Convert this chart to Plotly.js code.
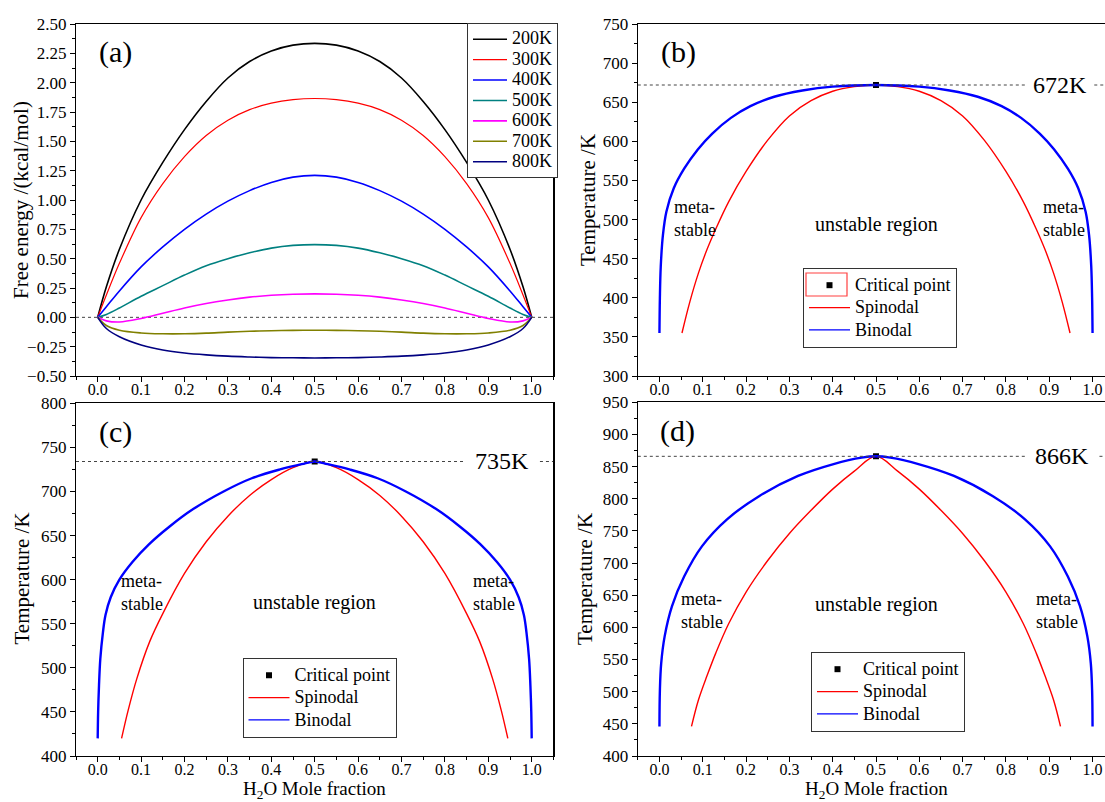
<!DOCTYPE html>
<html>
<head>
<meta charset="utf-8">
<script src="https://cdn.plot.ly/plotly-3.0.1.min.js"></script>
<style>
html,body{margin:0;padding:0;overflow:hidden;background:#fff;}
#chart{width:1130px;height:802px;}
</style>
</head>
<body>
<div id="chart"></div>
<script>
// ---------- Panel (a): free energy of mixing ----------
const xFrac = [0, 0.02, 0.05, 0.1, 0.15, 0.2, 0.25, 0.3, 0.35, 0.4, 0.45, 0.5, 0.55, 0.6, 0.65, 0.7, 0.75, 0.8, 0.85, 0.9, 0.95, 0.98, 1.0];
const tempLabels = ['200K', '300K', '400K', '500K', '600K', '700K', '800K'];
const g200 = [0, 0.26, 0.58, 1.00, 1.32, 1.60, 1.84, 2.04, 2.18, 2.27, 2.32, 2.335, 2.32, 2.27, 2.18, 2.04, 1.84, 1.60, 1.32, 1.00, 0.58, 0.26, 0];
const g300 = [0, 0.19, 0.46, 0.85, 1.14, 1.37, 1.55, 1.68, 1.77, 1.825, 1.855, 1.865, 1.855, 1.825, 1.77, 1.68, 1.55, 1.37, 1.14, 0.85, 0.46, 0.19, 0];
const g400 = [0, 0.09, 0.225, 0.43, 0.60, 0.75, 0.88, 0.99, 1.08, 1.15, 1.195, 1.21, 1.195, 1.15, 1.08, 0.99, 0.88, 0.75, 0.60, 0.43, 0.225, 0.09, 0];
const g500 = [0, 0.025, 0.08, 0.18, 0.27, 0.36, 0.44, 0.50, 0.55, 0.59, 0.613, 0.62, 0.613, 0.59, 0.55, 0.50, 0.44, 0.36, 0.27, 0.18, 0.08, 0.025, 0];
const g600 = [0, -0.03, -0.04, -0.01, 0.035, 0.08, 0.118, 0.148, 0.172, 0.188, 0.197, 0.20, 0.197, 0.188, 0.172, 0.148, 0.118, 0.08, 0.035, -0.01, -0.04, -0.03, 0];
const g700 = [0, -0.07, -0.11, -0.133, -0.14, -0.14, -0.135, -0.126, -0.119, -0.114, -0.111, -0.11, -0.111, -0.114, -0.119, -0.126, -0.135, -0.14, -0.14, -0.133, -0.11, -0.07, 0];
const g800 = [0, -0.095, -0.165, -0.235, -0.278, -0.304, -0.32, -0.331, -0.338, -0.343, -0.345, -0.346, -0.345, -0.343, -0.338, -0.331, -0.32, -0.304, -0.278, -0.235, -0.165, -0.095, 0];
const energySeries = [g200, g300, g400, g500, g600, g700, g800];
const energyColors = ['#000000', '#ff0000', '#0000ff', '#008080', '#ff00ff', '#808000', '#000080'];

// ---------- Panel (b): Tc = 672 K ----------
const bTc = 672;
const bSpinX = [0.052, 0.07, 0.09, 0.11, 0.13, 0.16, 0.2, 0.25, 0.3, 0.35, 0.4, 0.45, 0.5, 0.55, 0.6, 0.65, 0.7, 0.75, 0.8, 0.84, 0.87, 0.89, 0.91, 0.93, 0.948];
const bSpinT = [355, 394.5, 431.5, 462, 488, 523, 561.5, 601.5, 632.5, 652, 664, 670, 672, 670, 664, 652, 632.5, 601.5, 561.5, 523, 488, 462, 431.5, 394.5, 355];
const bBinT = [355, 400, 440, 480, 510, 540, 565, 590, 610, 630, 645, 657, 665, 670, 672, 670, 665, 657, 645, 630, 610, 590, 565, 540, 510, 480, 440, 400, 355];
const bBinX = [0.0, 0.001, 0.003, 0.008, 0.016, 0.033, 0.057, 0.089, 0.122, 0.165, 0.21, 0.265, 0.33, 0.40, 0.5, 0.60, 0.67, 0.735, 0.79, 0.835, 0.878, 0.911, 0.943, 0.967, 0.984, 0.992, 0.997, 0.999, 1.0];

// ---------- Panel (c): Tc = 735 K ----------
const cTc = 734;
const cSpinX = [0.055, 0.07, 0.09, 0.12, 0.15, 0.2, 0.25, 0.3, 0.35, 0.4, 0.45, 0.5, 0.55, 0.6, 0.65, 0.7, 0.75, 0.8, 0.85, 0.88, 0.91, 0.93, 0.945];
const cSpinT = [420, 451.5, 487.5, 530, 561.5, 607, 643, 672, 695.5, 713.5, 727, 734, 727, 713.5, 695.5, 672, 643, 607, 561.5, 530, 487.5, 451.5, 420];
const cBinT = [420, 450, 480, 510, 540, 560, 580, 600, 620, 640, 660, 680, 700, 715, 725, 731, 734, 731, 725, 715, 700, 680, 660, 640, 620, 600, 580, 560, 540, 510, 480, 450, 420];
const cBinX = [0.0, 0.001, 0.003, 0.006, 0.012, 0.018, 0.030, 0.050, 0.080, 0.118, 0.165, 0.220, 0.290, 0.355, 0.42, 0.47, 0.5, 0.53, 0.58, 0.645, 0.71, 0.78, 0.835, 0.882, 0.92, 0.95, 0.97, 0.982, 0.988, 0.994, 0.997, 0.999, 1.0];

// ---------- Panel (d): Tc = 866 K ----------
const dTc = 866;
const dSpinX = [0.074, 0.09, 0.11, 0.13, 0.16, 0.2, 0.25, 0.3, 0.35, 0.4, 0.45, 0.5, 0.55, 0.6, 0.65, 0.7, 0.75, 0.8, 0.84, 0.87, 0.89, 0.91, 0.926];
const dSpinT = [446, 487, 525, 560, 606, 655, 704, 746, 782, 815, 843, 866, 843, 815, 782, 746, 704, 655, 606, 560, 525, 487, 446];
const dBinT = [446, 502, 544, 586, 633, 679, 726, 768, 804, 835.5, 854, 864, 866, 864, 854, 835.5, 804, 768, 726, 679, 633, 586, 544, 502, 446];
const dBinX = [0.0, 0.001, 0.004, 0.012, 0.029, 0.057, 0.098, 0.156, 0.23, 0.32, 0.402, 0.467, 0.5, 0.533, 0.598, 0.68, 0.77, 0.844, 0.902, 0.943, 0.971, 0.988, 0.996, 0.999, 1.0];

const legendNames = ['Critical point', 'Spinodal', 'Binodal'];
const tcLabels = ['672K', '735K', '866K'];

// ---------- geometry helpers (pixels -> paper) ----------
const W = 1130, H = 802;
const px = v => v / W;
const py = v => 1 - v / H;
const FONT = 'Liberation Serif';
const lgName = (s, fs) => '<span style="font-size:' + fs + 'px">' + s + '</span>';

const traces = [];
energySeries.forEach((s, i) => {
  traces.push({
    x: xFrac, y: s, type: 'scatter', mode: 'lines',
    line: {color: energyColors[i], width: i === 1 ? 1.2 : 1.6, shape: 'spline', smoothing: 1},
    name: lgName(tempLabels[i], 18),
    xaxis: 'x', yaxis: 'y', legend: 'legend'
  });
});

const phasePanels = [
  {xa: 'x2', ya: 'y2', lg: 'legend2', tc: bTc, sT: bSpinT, sX: bSpinX, bT: bBinT, bX: bBinX},
  {xa: 'x3', ya: 'y3', lg: 'legend3', tc: cTc, sT: cSpinT, sX: cSpinX, bT: cBinT, bX: cBinX},
  {xa: 'x4', ya: 'y4', lg: 'legend4', tc: dTc, sT: dSpinT, sX: dSpinX, bT: dBinT, bX: dBinX}
];
phasePanels.forEach(p => {
  traces.push({
    x: [0.5], y: [p.tc], type: 'scatter', mode: 'markers',
    marker: {symbol: 'square', size: 6, color: '#000'},
    name: lgName(legendNames[0], 18),
    xaxis: p.xa, yaxis: p.ya, legend: p.lg
  });
  // legend-only entries (thin sample lines, as in the original legend)
  traces.push({
    x: [null], y: [null], type: 'scatter', mode: 'lines',
    line: {color: '#ff0000', width: 1.2},
    name: lgName(legendNames[1], 18),
    xaxis: p.xa, yaxis: p.ya, legend: p.lg
  });
  traces.push({
    x: [null], y: [null], type: 'scatter', mode: 'lines',
    line: {color: '#0000ff', width: 1.2},
    name: lgName(legendNames[2], 18),
    xaxis: p.xa, yaxis: p.ya, legend: p.lg
  });
  traces.push({
    x: p.sX, y: p.sT, type: 'scatter', mode: 'lines',
    line: {color: '#ff0000', width: 1.4, shape: 'spline', smoothing: 1},
    name: legendNames[1], showlegend: false,
    xaxis: p.xa, yaxis: p.ya
  });
  traces.push({
    x: p.bX, y: p.bT, type: 'scatter', mode: 'lines',
    line: {color: '#0000ff', width: 2.4, shape: 'spline', smoothing: 1},
    name: legendNames[2], showlegend: false,
    xaxis: p.xa, yaxis: p.ya
  });
});

function xAxis(domain, anchor) {
  return {
    domain: domain, anchor: anchor, range: [-0.05, 1.05],
    tick0: 0, dtick: 0.1, tickformat: '.1f',
    ticks: 'outside', ticklen: 5, tickwidth: 1, tickcolor: '#000',
    ticklabelstandoff: -6,
    minor: {ticks: 'outside', dtick: 0.05, ticklen: 3, tickcolor: '#000', tickwidth: 1},
    showline: true, mirror: true, linecolor: '#000', linewidth: 1.2,
    showgrid: false, zeroline: false,
    tickfont: {family: FONT, size: 16, color: '#000'}
  };
}
function yAxis(domain, anchor, range, dtick, fmt) {
  return {
    domain: domain, anchor: anchor, range: range,
    tick0: 0, dtick: dtick, tickformat: fmt,
    ticks: 'outside', ticklen: 5, tickwidth: 1, tickcolor: '#000',
    minor: {ticks: 'outside', dtick: dtick / 2, ticklen: 3, tickcolor: '#000', tickwidth: 1},
    showline: true, mirror: true, linecolor: '#000', linewidth: 1.2,
    showgrid: false, zeroline: false,
    tickfont: {family: FONT, size: 17, color: '#000'}
  };
}

const xL = [px(76), px(553.4)];
const xR = [px(637.8), px(1114.2)];
const yT = [py(376), py(24)];

function legendBox(x, y, fs, bg, iw) {
  return {
    x: px(x), y: py(y), xanchor: 'left', yanchor: 'top',
    font: {family: FONT, size: fs, color: '#000'},
    bgcolor: bg, bordercolor: '#333', borderwidth: 1,
    itemwidth: iw, tracegroupgap: 0
  };
}

const annotations = [];
function txt(xref, yref, x, y, text, size, extra) {
  annotations.push(Object.assign({
    xref: xref, yref: yref, x: x, y: y, text: text, showarrow: false,
    xanchor: 'center', yanchor: 'middle',
    font: {family: FONT, size: size, color: '#000'}
  }, extra || {}));
}
// panel labels
txt('x', 'y', 0.04, 2.26, '(a)', 30);
txt('x2', 'y2', 0.044, 714, '(b)', 30);
txt('x3', 'y3', 0.04, 767, '(c)', 30);
txt('x4', 'y4', 0.041, 906, '(d)', 30);
// critical temperature labels
txt('x2', 'y2', 0.925, bTc, tcLabels[0], 24);
txt('x3', 'y3', 0.931, cTc, tcLabels[1], 24);
txt('x4', 'y4', 0.929, dTc, tcLabels[2], 24);
// region labels
const regionSpecs = [
  {xa: 'x2', ya: 'y2', ml: 0.03, mr: 0.88, mT: 501, uT: 494},
  {xa: 'x3', ya: 'y3', ml: 0.049, mr: 0.861, mT: 585, uT: 574},
  {xa: 'x4', ya: 'y4', ml: 0.045, mr: 0.865, mT: 626, uT: 635}
];
regionSpecs.forEach(r => {
  txt(r.xa, r.ya, r.ml, r.mT, 'meta-<br>stable', 18, {xanchor: 'left', align: 'left'});
  txt(r.xa, r.ya, r.mr, r.mT, 'meta-<br>stable', 18, {xanchor: 'left', align: 'left'});
  txt(r.xa, r.ya, 0.5, r.uT, 'unstable region', 20);
});
// axis titles
txt('paper', 'paper', px(21), py(200), 'Free energy /(kcal/mol)', 21, {textangle: -90});
txt('paper', 'paper', px(588), py(200), 'Temperature /K', 21, {textangle: -90});
txt('paper', 'paper', px(21.5), py(579), 'Temperature /K', 21, {textangle: -90});
txt('paper', 'paper', px(585), py(579), 'Temperature /K', 21, {textangle: -90});
txt('paper', 'paper', px(314.7), py(790), 'H<sub>2</sub>O Mole fraction', 19, {borderpad: 0});
txt('paper', 'paper', px(876), py(790), 'H<sub>2</sub>O Mole fraction', 19, {borderpad: 0});

const dotted = {color: '#444', width: 1, dash: 'dot'};
const shapes = [
  {type: 'line', xref: 'x', yref: 'y', x0: -0.05, x1: 1.05, y0: 0, y1: 0, line: dotted, layer: 'below'},
  {type: 'line', xref: 'x2', yref: 'y2', x0: -0.05, x1: 0.845, y0: bTc, y1: bTc, line: dotted},
  {type: 'line', xref: 'x2', yref: 'y2', x0: 1.004, x1: 1.05, y0: bTc, y1: bTc, line: dotted},
  {type: 'line', xref: 'x3', yref: 'y3', x0: -0.05, x1: 0.842, y0: cTc, y1: cTc, line: dotted},
  {type: 'line', xref: 'x3', yref: 'y3', x0: 1.019, x1: 1.05, y0: cTc, y1: cTc, line: dotted},
  {type: 'line', xref: 'x4', yref: 'y4', x0: -0.05, x1: 0.844, y0: dTc, y1: dTc, line: dotted},
  {type: 'line', xref: 'x4', yref: 'y4', x0: 1.016, x1: 1.05, y0: dTc, y1: dTc, line: dotted},
  // red selection box around critical-point legend symbol in (b)
  {type: 'rect', xref: 'paper', yref: 'paper', x0: px(806), x1: px(847), y0: py(296), y1: py(273),
   line: {color: '#ff4040', width: 1.2}, fillcolor: 'rgba(0,0,0,0)'}
];

const layout = {
  width: W, height: H,
  margin: {l: 0, r: 0, t: 0, b: 0},
  paper_bgcolor: '#fff', plot_bgcolor: '#fff',
  font: {family: FONT, color: '#000'},
  showlegend: true,
  xaxis: xAxis(xL, 'y'),
  yaxis: yAxis(yT, 'x', [-0.5, 2.5], 0.25, '.2f'),
  xaxis2: xAxis(xR, 'y2'),
  yaxis2: yAxis(yT, 'x2', [300, 750], 50, 'd'),
  xaxis3: xAxis(xL, 'y3'),
  yaxis3: yAxis([py(756), py(403.3)], 'x3', [400, 800], 50, 'd'),
  xaxis4: xAxis(xR, 'y4'),
  yaxis4: yAxis([py(756), py(402.3)], 'x4', [400, 950], 50, 'd'),
  legend: legendBox(467, 23, 13.4, '#fff', 34),
  legend2: legendBox(803, 268, 14.9, 'rgba(255,255,255,0)', 41),
  legend3: legendBox(242.5, 658, 14.9, '#fff', 41),
  legend4: legendBox(811, 652, 14.9, '#fff', 41),
  annotations: annotations,
  shapes: shapes
};

Plotly.newPlot('chart', traces, layout, {displayModeBar: false, staticPlot: true});
</script>
</body>
</html>
